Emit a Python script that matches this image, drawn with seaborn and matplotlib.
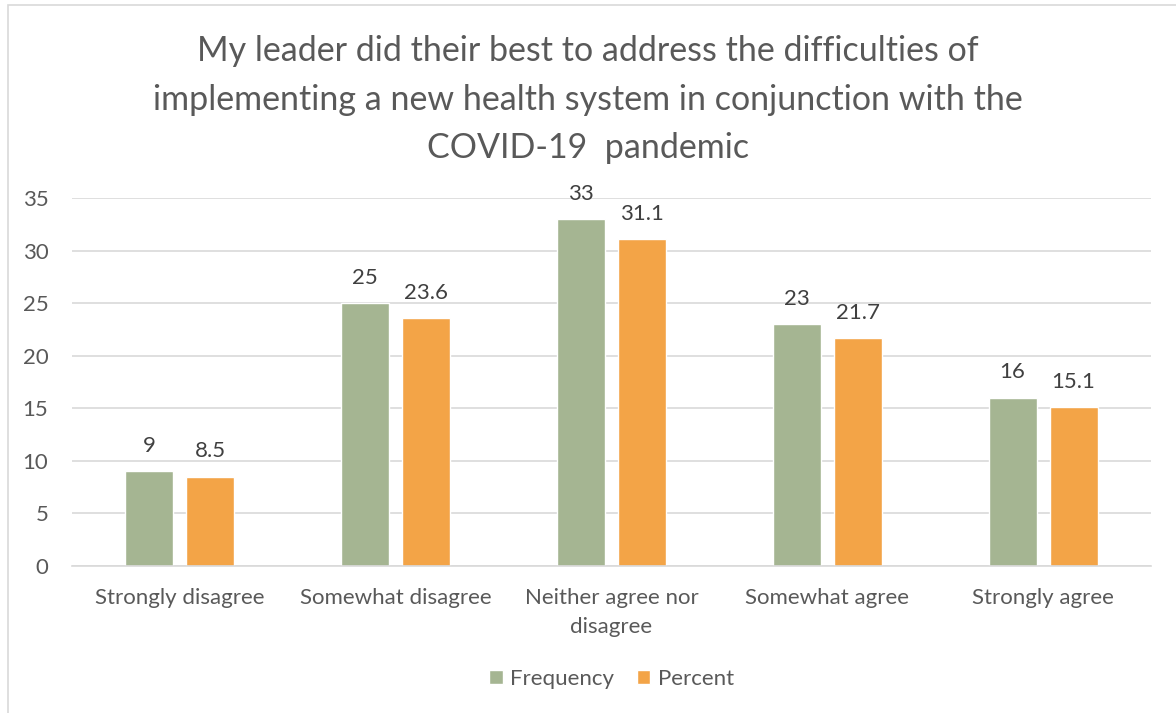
import pandas as pd
import matplotlib
matplotlib.use('Agg')
import matplotlib.pyplot as plt
import seaborn as sns
from matplotlib.patches import Rectangle

# Data
categories = ['Strongly disagree', 'Somewhat disagree', 'Neither agree nor\ndisagree',
              'Somewhat agree', 'Strongly agree']
frequency = [9, 25, 33, 23, 16]
percent = [8.5, 23.6, 31.1, 21.7, 15.1]
series = ['Frequency', 'Percent']
colors = ['#A5B592', '#F3A447']

title = ('My leader did their best to address the difficulties of\n'
         'implementing a new health system in conjunction with the\n'
         'COVID-19  pandemic')

df = pd.DataFrame({
    'Category': categories * 2,
    'Value': frequency + percent,
    'Series': [series[0]] * len(categories) + [series[1]] * len(categories),
})

sns.set_theme(style='white')
plt.rcParams['font.family'] = ['Lato', 'DejaVu Sans']
text_color = '#595959'

fig = plt.figure(figsize=(11.76, 7.13), dpi=100)
ax = fig.add_axes([72 / 1176, 1 - 566 / 713, (1151 - 72) / 1176, (566 - 198) / 713])

sns.barplot(data=df, x='Category', y='Value', hue='Series', palette=colors,
            width=0.565, gap=0.21, ax=ax, saturation=1)

ax.set_ylim(0, 35)
ax.set_yticks(range(0, 36, 5))
ax.yaxis.grid(True, color='#D9D9D9', linewidth=1.2)
ax.set_axisbelow(True)
for side in ['top', 'right', 'left']:
    ax.spines[side].set_visible(False)
ax.spines['bottom'].set_color('#D9D9D9')
ax.spines['bottom'].set_linewidth(1.2)
ax.tick_params(axis='both', length=0, labelsize=16, colors=text_color)
ax.tick_params(axis='x', pad=16)
ax.tick_params(axis='y', pad=17)
ax.set_xlabel('')
ax.set_ylabel('')
for lbl in ax.get_xticklabels():
    lbl.set_linespacing(1.55)

for cont in ax.containers:
    ax.bar_label(cont, fmt='%g', padding=11, fontsize=16, color='#404040')

ax.legend(loc='center', bbox_to_anchor=(0.5, -0.306), ncol=2, frameon=False,
          fontsize=16, labelcolor=text_color, handlelength=0.6, handleheight=0.6,
          columnspacing=1.0, handletextpad=0.35)

fig.suptitle(title, x=588 / 1176, y=1 - 35 / 713, fontsize=24.5, color=text_color,
             linespacing=1.64, va='top')

fig.patches.append(Rectangle((8 / 1176, -0.01), 1.1, 1 - 5 / 713 + 0.01,
                             transform=fig.transFigure, fill=False,
                             edgecolor='#D9D9D9', linewidth=1.2))

fig.savefig('out.png', dpi=100)
